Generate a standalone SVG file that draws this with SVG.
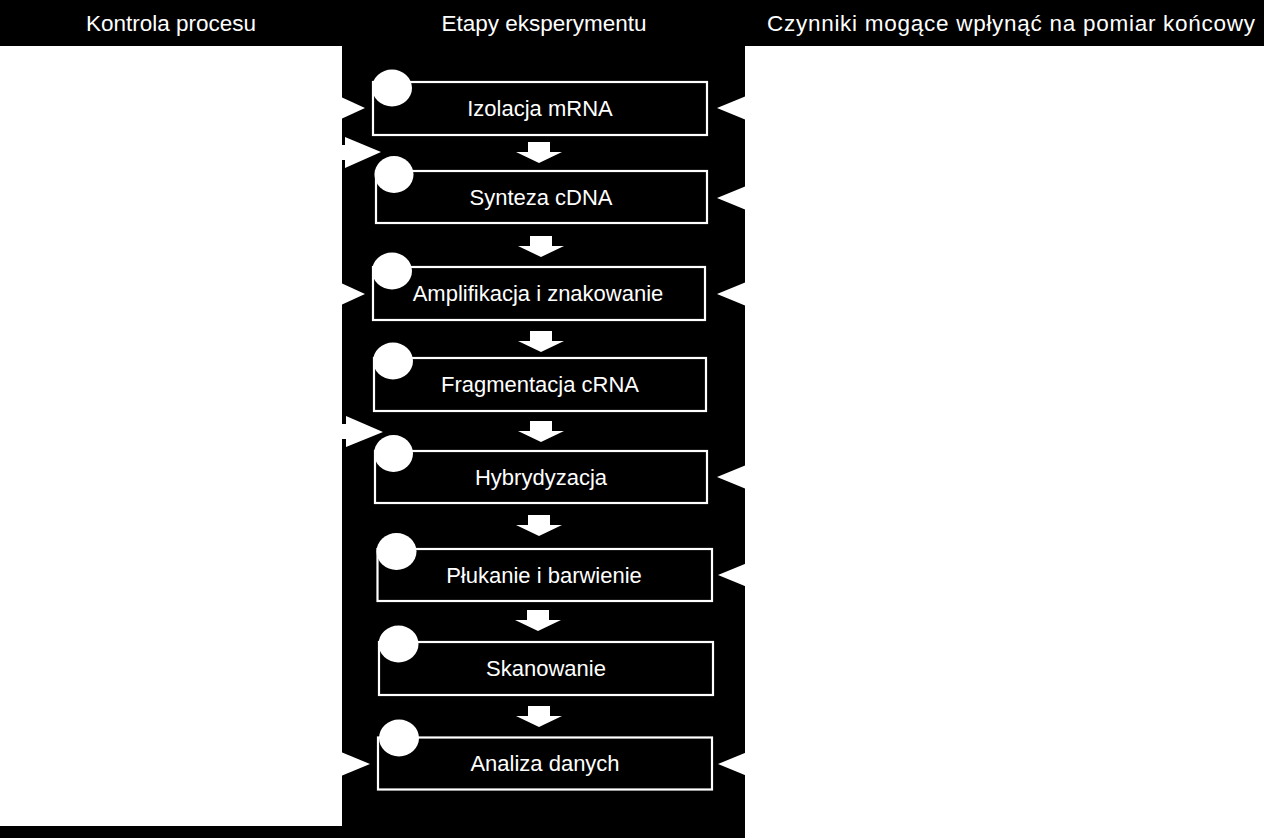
<svg xmlns="http://www.w3.org/2000/svg" width="1264" height="838" viewBox="0 0 1264 838">
<style>
.hdr{font-family:"Liberation Sans",Arial,sans-serif;font-size:22.5px;fill:#ffffff;text-anchor:middle}
.lbl{font-family:"Liberation Sans",Arial,sans-serif;font-size:22px;fill:#ffffff;text-anchor:middle}
.box{fill:#000000;stroke:#ffffff;stroke-width:2.2}
.dot{fill:#ffffff}
.arr{fill:#ffffff;stroke:none}
</style>
<defs>
<polygon id="down" points="-11,0 11,0 11,10 23,10 0,21 -23,10 -11,10"/>
<polygon id="rtri" points="0,-11.5 -28,0 0,11.5"/>
</defs>
<rect x="0" y="0" width="1264" height="838" fill="#000000"/>
<g id="panels">
<rect x="0" y="46" width="342" height="780" fill="#ffffff"/>
<rect x="745" y="46" width="519" height="792" fill="#ffffff"/>
</g>
<g id="headers">
<text class="hdr" x="171" y="31">Kontrola procesu</text>
<text class="hdr" x="544" y="31">Etapy eksperymentu</text>
<text class="hdr" x="1011" y="31" textLength="488" lengthAdjust="spacing">Czynniki mogące wpłynąć na pomiar końcowy</text>
</g>
<g id="connectors">
<use href="#down" class="arr" x="539" y="142"/>
<use href="#down" class="arr" x="541" y="236"/>
<use href="#down" class="arr" x="541" y="331"/>
<use href="#down" class="arr" x="541" y="421"/>
<use href="#down" class="arr" x="539" y="515"/>
<use href="#down" class="arr" x="538" y="610"/>
<use href="#down" class="arr" x="539" y="706"/>
<polygon class="arr" points="341,97 365,108 341,119"/>
<polygon class="arr" points="341,283 365,294 341,305"/>
<polygon class="arr" points="341,752 370,764 341,776"/>
<polygon class="arr" points="341,145 345,145 345,137 381,152 345,168 345,160 341,160"/>
<polygon class="arr" points="341,424 346,424 346,416 383,432 346,447 346,439 341,439"/>
<use href="#rtri" class="arr" x="745" y="108"/>
<use href="#rtri" class="arr" x="745" y="198"/>
<use href="#rtri" class="arr" x="745" y="294"/>
<use href="#rtri" class="arr" x="745" y="477"/>
<use href="#rtri" class="arr" x="746" y="575"/>
<use href="#rtri" class="arr" x="746" y="764"/>
</g>
<g id="n1"><rect class="box" x="373" y="82" width="334" height="53"/><ellipse class="dot" cx="392" cy="88" rx="20" ry="18.5"/><text class="lbl" x="540" y="116">Izolacja mRNA</text></g>
<g id="n2"><rect class="box" x="376" y="171" width="331" height="52"/><ellipse class="dot" cx="394" cy="174.5" rx="19.5" ry="18.5"/><text class="lbl" x="541" y="205">Synteza cDNA</text></g>
<g id="n3"><rect class="box" x="373" y="267" width="332" height="53"/><ellipse class="dot" cx="392" cy="271" rx="20" ry="18.5"/><text class="lbl" x="538" y="301">Amplifikacja i znakowanie</text></g>
<g id="n4"><rect class="box" x="374" y="358" width="332" height="53"/><ellipse class="dot" cx="393" cy="361" rx="20" ry="18.5"/><text class="lbl" x="540" y="392">Fragmentacja cRNA</text></g>
<g id="n5"><rect class="box" x="375" y="451" width="332" height="52"/><ellipse class="dot" cx="393.5" cy="453.5" rx="19.5" ry="18.5"/><text class="lbl" x="541" y="485">Hybrydyzacja</text></g>
<g id="n6"><rect class="box" x="377.5" y="549" width="334.5" height="52"/><ellipse class="dot" cx="396.5" cy="551.5" rx="20" ry="18.5"/><text class="lbl" x="544" y="583">Płukanie i barwienie</text></g>
<g id="n7"><rect class="box" x="379" y="642" width="334" height="53"/><ellipse class="dot" cx="398.5" cy="644" rx="20" ry="18.5"/><text class="lbl" x="546" y="676">Skanowanie</text></g>
<g id="n8"><rect class="box" x="378" y="737.5" width="334" height="52"/><ellipse class="dot" cx="399" cy="738" rx="20" ry="18.5"/><text class="lbl" x="545" y="771">Analiza danych</text></g>
</svg>
